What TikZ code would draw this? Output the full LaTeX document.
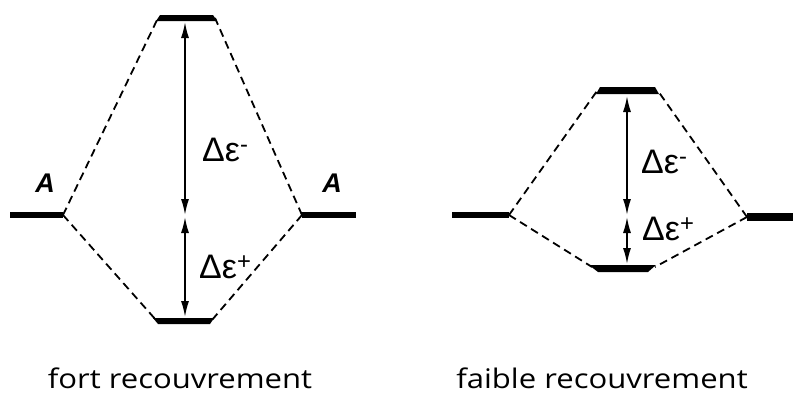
\documentclass[tikz,border=0pt]{standalone}
\usepackage{fontspec}
\setmainfont{Liberation Sans}
\newfontfamily\captionfont[FakeStretch=1.15]{Open Sans}
\usetikzlibrary{arrows.meta}
\tikzset{
  lvl/.style={fill=black,draw=none},
  dsh/.style={line width=1.8pt,dash pattern=on 8pt off 5pt},
  gap/.style={line width=1.6pt,{Latex[length=16pt,width=8pt]}-{Latex[length=16pt,width=8pt]}},
  dlabel/.style={anchor=west,inner sep=0pt,font=\fontsize{34}{36}\selectfont},
  alabel/.style={inner sep=0pt,font=\fontsize{27}{29}\selectfont\bfseries\itshape},
  captext/.style={anchor=base,inner sep=0pt,font=\captionfont\fontsize{27}{30}\selectfont}
}
\begin{document}
\begin{tikzpicture}[x=1pt,y=-1pt]
\useasboundingbox (0,0) rectangle (793,394);
% ---------- left diagram ----------
\coordinate (LA1) at (63,215);
\coordinate (LA2) at (302,215);
\coordinate (LTl) at (158,18);
\coordinate (LTr) at (215,18);
\coordinate (LBl) at (156,320);
\coordinate (LBr) at (212,320);
\fill[lvl] (160,15) -- (213,15) -- (217,21) -- (156,21) -- cycle;
\fill[lvl] (153,318) -- (214,318) -- (210,324) -- (158,324) -- cycle;
\fill[lvl] (10,212) rectangle (63,218);
\fill[lvl] (302,212) rectangle (356,218);
\draw[dsh] (LA1) -- (LTl);
\draw[dsh] (LA1) -- (LBl);
\draw[dsh] (LA2) -- (LTr);
\draw[dsh] (LA2) -- (LBr);
\coordinate (LaT) at (185,22);
\coordinate (LaM1) at (185,215);
\coordinate (LaM2) at (185,217);
\coordinate (LaB) at (185,317);
\draw[gap] (LaT) -- (LaM1);
\draw[gap] (LaM2) -- (LaB);
\node[dlabel] (lminus) at (202,150) {Δε\textsuperscript{-}};
\node[dlabel] (lplus) at (199,267) {Δε\textsuperscript{+}};
\node[alabel] (lA) at (45,183) {A};
\node[alabel] (rA) at (332,183) {A};
\node[captext] (lcap) at (180,388) {fort recouvrement};
% ---------- right diagram ----------
\coordinate (RA1) at (509,215);
\coordinate (RA2) at (747,217);
\coordinate (RTl) at (597,91);
\coordinate (RTr) at (658,91);
\coordinate (RBl) at (592,267);
\coordinate (RBr) at (655,267);
\fill[lvl] (600,87) -- (655,87) -- (659,94) -- (596,94) -- cycle;
\fill[lvl] (589,265) -- (656,265) -- (648,272) -- (598,272) -- cycle;
\fill[lvl] (452,212) rectangle (509,218);
\fill[lvl] (747,213) rectangle (793,221);
\draw[dsh] (RA1) -- (RTl);
\draw[dsh] (RA1) -- (RBl);
\draw[dsh] (RA2) -- (RTr);
\draw[dsh] (RA2) -- (RBr);
\coordinate (RaT) at (627,96);
\coordinate (RaM1) at (627,215);
\coordinate (RaM2) at (627,217);
\coordinate (RaB) at (627,264);
\draw[gap] (RaT) -- (RaM1);
\draw[gap] (RaM2) -- (RaB);
\node[dlabel] (rminus) at (641,162) {Δε\textsuperscript{-}};
\node[dlabel] (rplus) at (642,229) {Δε\textsuperscript{+}};
\node[captext] (rcap) at (602,388) {faible recouvrement};
\end{tikzpicture}
\end{document}
